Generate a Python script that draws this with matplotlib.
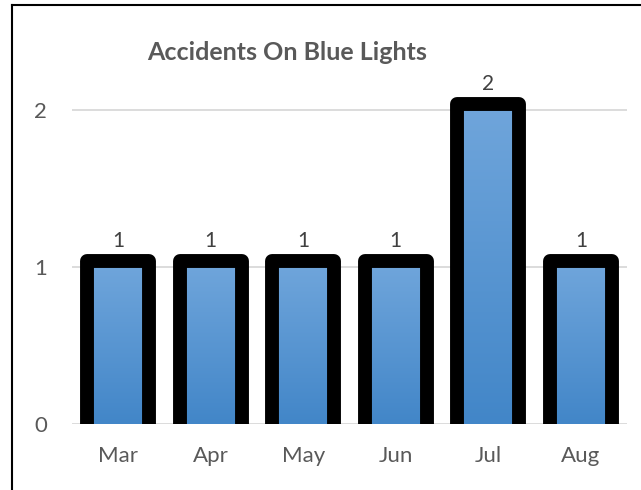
import numpy as np
import matplotlib
matplotlib.use('Agg')
import matplotlib.pyplot as plt
from matplotlib.lines import Line2D
from matplotlib.colors import LinearSegmentedColormap

# Data
months = ["Mar", "Apr", "May", "Jun", "Jul", "Aug"]
accidents = [1, 1, 1, 1, 2, 1]

plt.rcParams['font.family'] = ['Lato', 'DejaVu Sans']
grey = '#595959'

fig = plt.figure(figsize=(6.41, 4.90), dpi=100)
ax = fig.add_axes([0.1123, 0.1347, 0.866, 0.705])

# Blue gradient used for the bar fill
cmap = LinearSegmentedColormap.from_list('blue', ['#4286c8', '#6fa5db'])
grad = np.linspace(0, 1, 256).reshape(-1, 1)

x = np.arange(len(months))
w = 0.67
lift = 0.04  # black top edge sits above the value
for xi, h in zip(x, accidents):
    ax.imshow(grad, cmap=cmap, origin='lower', aspect='auto',
              extent=(xi - w / 2, xi + w / 2, 0, h), zorder=2)
    ax.plot([xi - w / 2, xi - w / 2, xi + w / 2, xi + w / 2],
            [0, h + lift, h + lift, 0],
            color='black', lw=10, solid_joinstyle='round', solid_capstyle='butt',
            zorder=3, clip_on=False)
    ax.text(xi, h + 0.1, str(h), ha='center', va='bottom',
            fontsize=15, color='#404040')

ax.set_xlim(-0.5, len(months) - 0.5)
ax.set_ylim(0, 2.2)
ax.set_xticks(x)
ax.set_xticklabels(months)
ax.set_yticks([0, 1, 2])
ax.tick_params(length=0, labelsize=16, labelcolor=grey)
ax.tick_params(axis='x', pad=16)
ax.tick_params(axis='y', pad=18)
ax.grid(axis='y', color='#d9d9d9', lw=1.3, zorder=0)
ax.set_axisbelow(True)
for s in ax.spines.values():
    s.set_visible(False)

fig.text(0.448, 0.892, "Accidents On Blue Lights", ha='center', va='center',
         fontsize=18, fontweight='bold', color=grey)

# Outer border (only left and top are visible in the crop)
fig.add_artist(Line2D([0.0195, 0.0195], [0, 0.989], color='black', lw=1.5,
                      transform=fig.transFigure))
fig.add_artist(Line2D([0.0195, 1.0], [0.989, 0.989], color='black', lw=1.5,
                      transform=fig.transFigure))

fig.savefig('out.png', dpi=100)
